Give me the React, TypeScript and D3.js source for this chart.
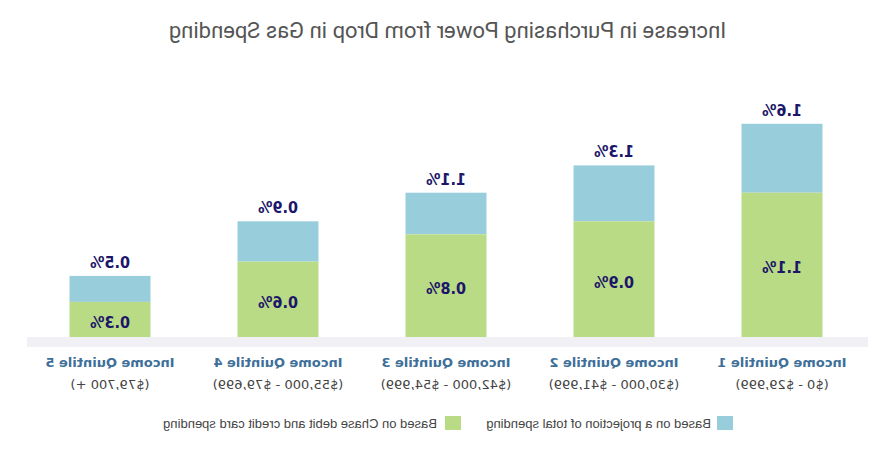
import React from "react";
import * as d3 from "d3";

const categories = ["Income Quintile 1", "Income Quintile 2", "Income Quintile 3", "Income Quintile 4", "Income Quintile 5"];
const ranges = ["($0 - $29,999)", "($30,000 - $41,999)", "($42,000 - $54,999)", "($55,000 - $79,699)", "($79,700 +)"];
const chaseValues = [1.11, 0.89, 0.79, 0.58, 0.27];
const totalValues = [1.64, 1.32, 1.11, 0.89, 0.47];
const legendLabels = ["Based on a projection of total spending", "Based on Chase debit and credit card spending"];
const title = "Increase in Purchasing Power from Drop in Gas Spending";

const W = 895;
const H = 451;
const BLUE = "#98cedb";
const GREEN = "#badb85";
const NAVY = "#1b1669";

export default function App() {
  const x = d3.scaleBand<string>().domain(categories).range([29, 869]).paddingInner(0.518).paddingOuter(0.259);
  const y = d3.scaleLinear().domain([0, 1]).range([337, 207]);
  const fmt = d3.format(".1f");
  const bw = x.bandwidth();
  const valueFont = "'DejaVu Sans Condensed', 'DejaVu Sans', sans-serif";

  return (
    <svg width={W} height={H} style={{ position: "absolute", left: 0, top: 0, background: "#fff" }}>
      <g transform={`translate(${W},0) scale(-1,1)`}>
        <text x={W / 2} y={38} textAnchor="middle" fontFamily="Roboto, sans-serif" fontSize={22} fill="#555">{title}</text>
        <rect x={27} y={y(0)} width={841} height={10} fill="#f1f1f5" />
        {categories.map((c, i) => {
          const x0 = x(c)!;
          const cx = x0 + bw / 2;
          return (
            <g key={c}>
              <rect x={x0} y={y(totalValues[i])} width={bw} height={y(chaseValues[i]) - y(totalValues[i])} fill={BLUE} />
              <rect x={x0} y={y(chaseValues[i])} width={bw} height={y(0) - y(chaseValues[i])} fill={GREEN} />
              <text x={cx} y={y(totalValues[i]) - 8} textAnchor="middle" fontFamily={valueFont} fontWeight="bold" fontSize={16} fill={NAVY}>{fmt(totalValues[i])}%</text>
              <text x={cx} y={(y(chaseValues[i]) + y(0)) / 2 + 3} dy="0.35em" textAnchor="middle" fontFamily={valueFont} fontWeight="bold" fontSize={16} fill={NAVY}>{fmt(chaseValues[i])}%</text>
              <text x={cx} y={367} textAnchor="middle" fontFamily="DejaVu Sans, sans-serif" fontWeight="bold" fontSize={13} fill="#3d6f99">{c}</text>
              <text x={cx} y={389} textAnchor="middle" fontFamily="DejaVu Sans, sans-serif" fontSize={13} fill="#444">{ranges[i]}</text>
            </g>
          );
        })}
        <rect x={162} y={416} width={16} height={14} fill={BLUE} />
        <text x={184} y={428} fontFamily="Liberation Sans, Arial, sans-serif" fontSize={13} fill="#444">{legendLabels[0]}</text>
        <rect x={434} y={416} width={16} height={14} fill={GREEN} />
        <text x={458} y={428} fontFamily="Liberation Sans, Arial, sans-serif" fontSize={13} fill="#444">{legendLabels[1]}</text>
      </g>
    </svg>
  );
}
